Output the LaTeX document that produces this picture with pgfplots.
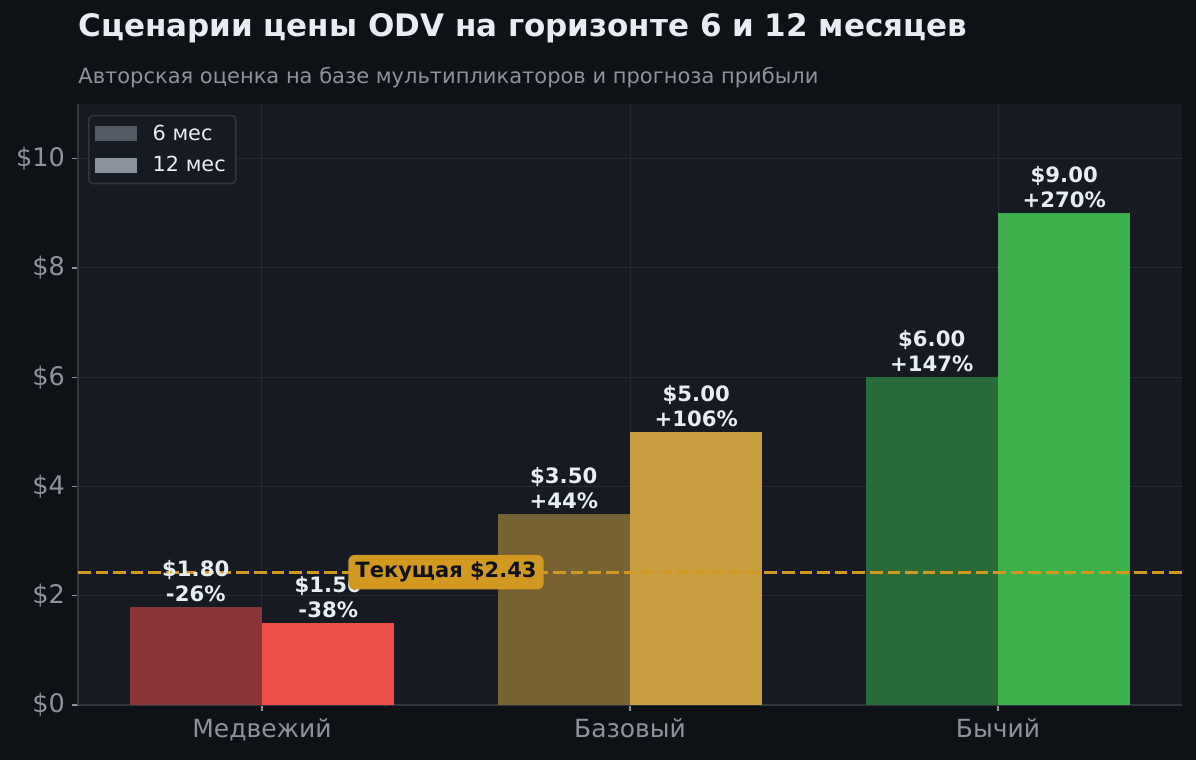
\documentclass[border=0pt]{standalone}
\usepackage{fontspec}
\setmainfont{DejaVu Sans}
\usepackage{pgfplots}
\pgfplotsset{compat=1.18}
\definecolor{figbg}{HTML}{0E1217}
\definecolor{axbg}{HTML}{161A22}
\definecolor{spine}{HTML}{30363D}
\definecolor{gridc}{HTML}{252A32}
\definecolor{muted}{HTML}{8B949E}
\definecolor{txt}{HTML}{E6EDF3}
\definecolor{gold}{HTML}{D29922}
\definecolor{bear6}{HTML}{8A3538}
\definecolor{bear12}{HTML}{EB4F48}
\definecolor{base6}{HTML}{776233}
\definecolor{base12}{HTML}{C89E40}
\definecolor{bull6}{HTML}{2A6B3B}
\definecolor{bull12}{HTML}{3DB04C}
\definecolor{leg6}{HTML}{545A63}
\definecolor{leg12}{HTML}{8B949E}
\begin{document}
\begin{tikzpicture}[x=1pt,y=1pt]
\fill[figbg] (0,0) rectangle (598,380);
\node[anchor=base west, font=\bfseries\fontsize{15.5}{18}\selectfont, text=txt, inner sep=0pt] at (39,361.5) {Сценарии цены ODV на горизонте 6 и 12 месяцев};
\node[anchor=base west, font=\fontsize{10.5}{12}\selectfont, text=muted, inner sep=0pt] at (39,338) {Авторская оценка на базе мультипликаторов и прогноза прибыли};
\begin{axis}[
  at={(39pt,27.5pt)}, anchor=south west,
  scale only axis, width=552pt, height=300.5pt,
  xmin=-0.5, xmax=2.5, ymin=0, ymax=11,
  axis background/.style={fill=axbg},
  axis lines=left, axis line style={spine, line width=0.8pt, -},
  xtick={0,1,2}, xticklabels={Медвежий,Базовый,Бычий},
  ytick={0,2,4,6,8,10},
  yticklabel={\$\pgfmathprintnumber{\tick}},
  /pgf/number format/assume math mode=true,
  tick align=outside, major tick length=3pt,
  tick style={muted, line width=0.6pt},
  x tick label style={font=\fontsize{12.5}{14}\selectfont, text=muted},
  y tick label style={font=\fontsize{12.8}{14}\selectfont, text=muted},
  grid=major, major grid style={gridc, line width=0.5pt},
  legend style={at={(0.009,0.982)}, anchor=north west, fill=axbg, draw=spine,
    rounded corners=2pt, text=txt, font=\fontsize{10.4}{12}\selectfont,
    inner xsep=3pt, inner ysep=2.5pt, row sep=2.5pt, line width=0.8pt},
  legend cell align=left,
  legend image code/.code={\path[#1, draw=none, sharp corners] (0pt,-3.75pt) rectangle (21pt,3.75pt); \path[draw=none, fill=none] (0pt,0pt) -- (27pt,0pt);},
]
\addlegendimage{fill=leg6}
\addlegendentry{6 мес}
\addlegendimage{fill=leg12}
\addlegendentry{12 мес}
\addplot[ybar, bar width=66.24pt, bar shift=0pt, fill=bear6, draw=none, forget plot] coordinates {(-0.18,1.8)};
\addplot[ybar, bar width=66.24pt, bar shift=0pt, fill=bear12, draw=none, forget plot] coordinates {(0.18,1.5)};
\addplot[ybar, bar width=66.24pt, bar shift=0pt, fill=base6, draw=none, forget plot] coordinates {(0.82,3.5)};
\addplot[ybar, bar width=66.24pt, bar shift=0pt, fill=base12, draw=none, forget plot] coordinates {(1.18,5.0)};
\addplot[ybar, bar width=66.24pt, bar shift=0pt, fill=bull6, draw=none, forget plot] coordinates {(1.82,6.0)};
\addplot[ybar, bar width=66.24pt, bar shift=0pt, fill=bull12, draw=none, forget plot] coordinates {(2.18,9.0)};
\addplot[gold, line width=1.5pt, dash pattern=on 6.3pt off 2.5pt, forget plot] coordinates {(-0.5,2.43) (2.5,2.43)};
\tikzset{blab/.style={anchor=south, align=center, text=txt, font=\bfseries\fontsize{10.6}{12.5}\selectfont, inner sep=0pt, yshift=2.3pt}}
\node[blab] at (axis cs:-0.18,1.8) {\$1.80\\-26\%};
\node[blab] at (axis cs:0.18,1.5) {\$1.50\\-38\%};
\node[blab] at (axis cs:0.82,3.5) {\$3.50\\+44\%};
\node[blab] at (axis cs:1.18,5.0) {\$5.00\\+106\%};
\node[blab] at (axis cs:1.82,6.0) {\$6.00\\+147\%};
\node[blab] at (axis cs:2.18,9.0) {\$9.00\\+270\%};
\node[fill=gold, rounded corners=3pt, text=figbg, font=\bfseries\fontsize{10.5}{12}\selectfont, inner xsep=3.5pt, inner ysep=3.5pt] at (axis cs:0.5,2.43) {Текущая \$2.43};
\end{axis}
\end{tikzpicture}
\end{document}
